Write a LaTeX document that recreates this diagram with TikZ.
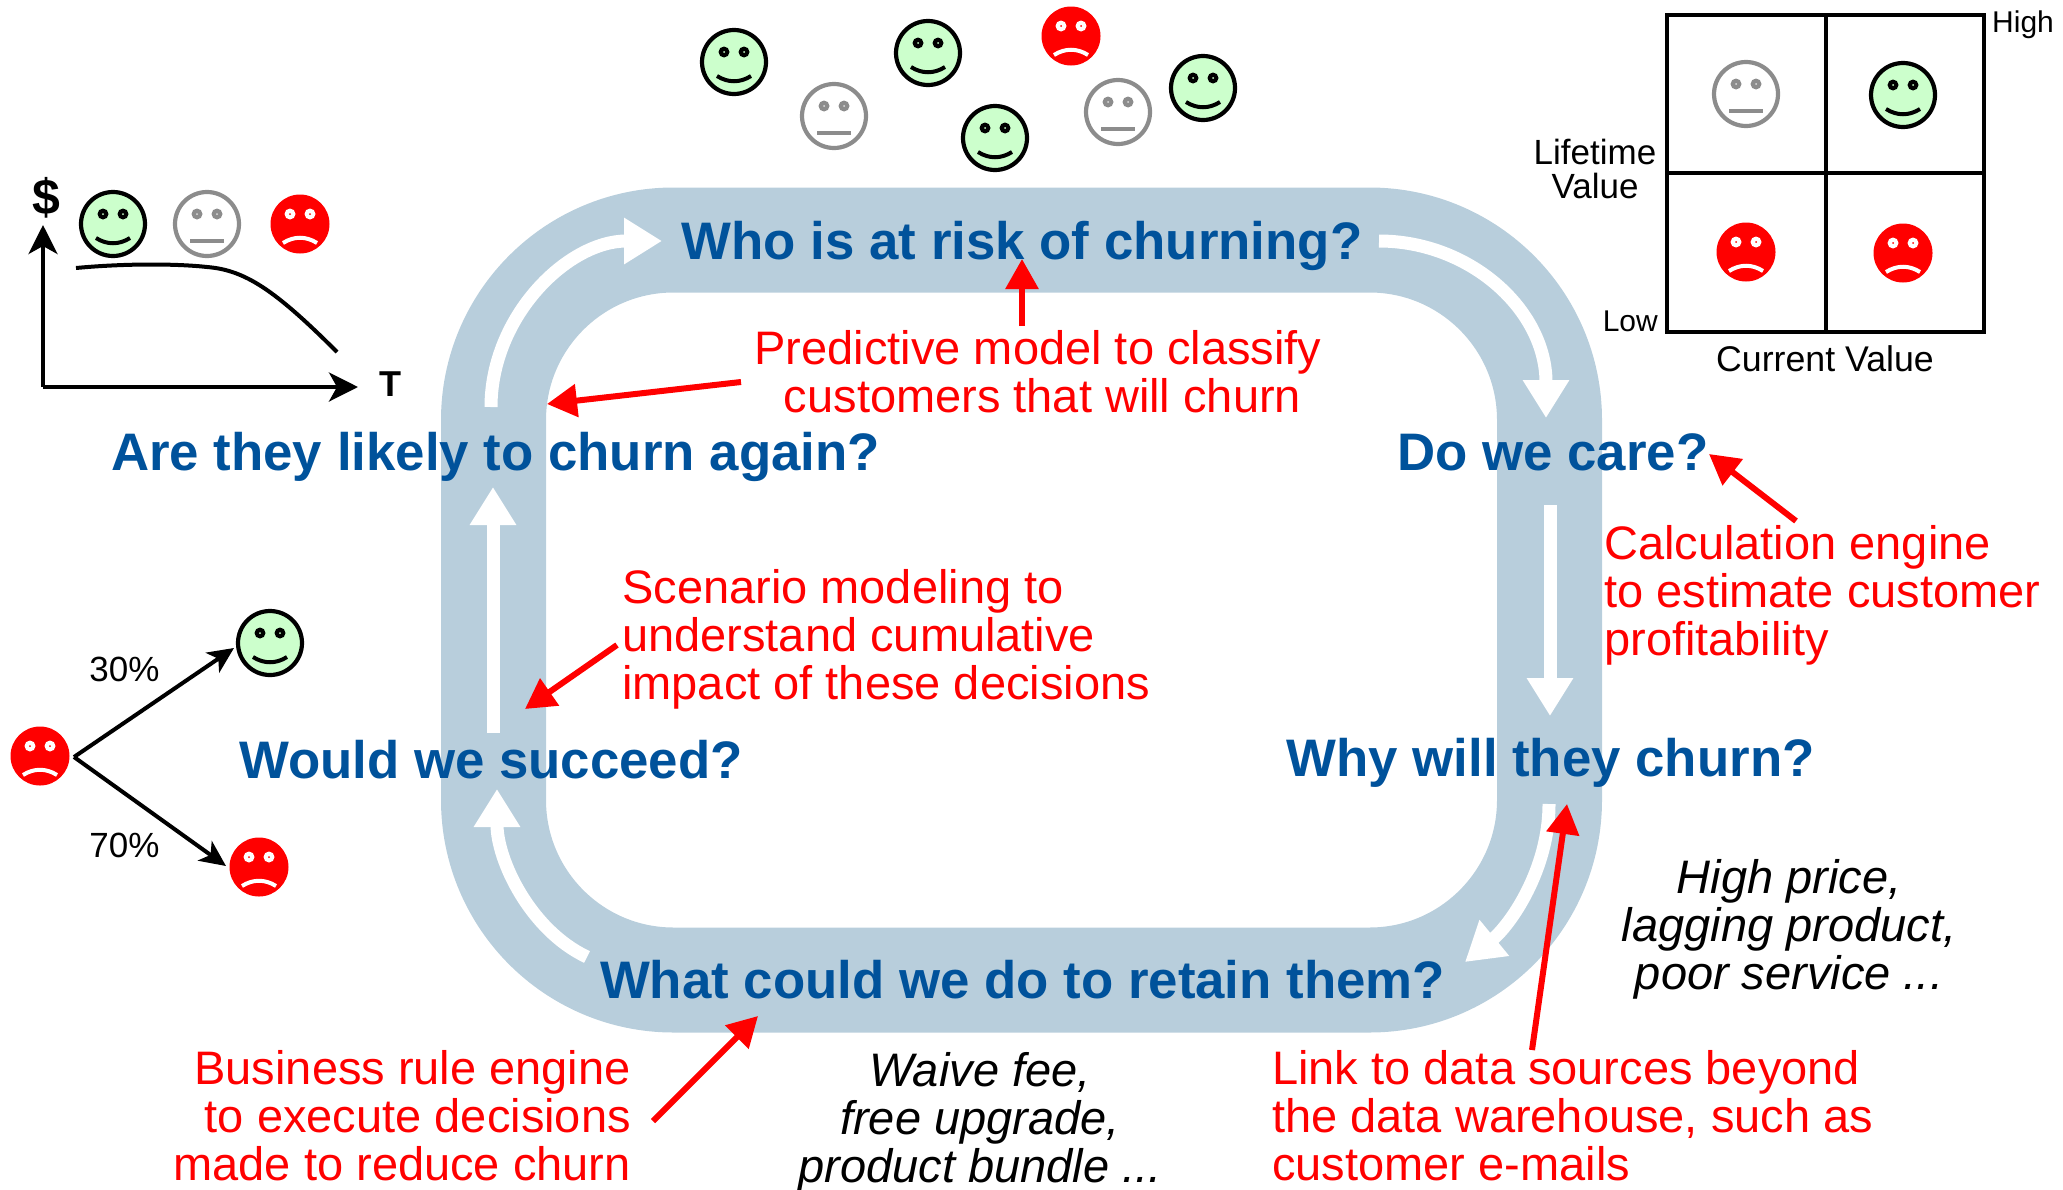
\documentclass[tikz,border=0pt]{standalone}
\usepackage{fontspec}
\setmainfont{Liberation Sans}
\usetikzlibrary{arrows.meta}
\definecolor{bandc}{HTML}{B8CEDC}
\definecolor{qblue}{HTML}{00529B}
\definecolor{happyc}{HTML}{CCFFCC}
\definecolor{neutc}{HTML}{8C8C8C}
\tikzset{
  x=1pt,y=-1pt,
  question/.style={inner sep=0pt,text=qblue,font=\fontsize{52.8}{60}\selectfont\bfseries},
  redtext/.style={inner sep=0pt,text=red,font=\fontsize{47}{48}\selectfont},
  ittext/.style={inner sep=0pt,text=black,font=\fontsize{47}{48}\selectfont\itshape},
  small/.style={inner sep=0pt,text=black,font=\fontsize{35}{34}\selectfont},
  whitearrow/.style={draw=white,line width=13pt,-{Triangle[length=38pt,width=44pt]}},
  redarrow/.style={draw=red,line width=6pt,-{Triangle[length=30pt,width=32pt]}},
  blackarrow/.style={draw=black,line width=4pt,-{Stealth[length=29pt,width=29pt,inset=8pt]}},
  thinarrow/.style={draw=black,line width=4pt,-{Stealth[length=26pt,width=24pt,inset=7pt]}},
  happy/.pic={
    \draw[fill=happyc,draw=black,line width=4.2pt] (0,0) circle[radius=32];
    \fill[black] (-10,-10) circle[radius=5.5] (10,-10) circle[radius=5.5];
    \fill[happyc] (-10,-10) circle[radius=1] (10,-10) circle[radius=1];
    \draw[black,line width=4pt] (-17,14) .. controls (-6,21) and (6,21) .. (17,14);
  },
  neutral/.pic={
    \draw[fill=white,draw=neutc,line width=4.2pt] (0,0) circle[radius=32];
    \fill[neutc] (-10,-10) circle[radius=5.5] (10,-10) circle[radius=5.5];
    \fill[white!70!neutc] (-10,-10) circle[radius=1] (10,-10) circle[radius=1];
    \draw[neutc,line width=4.5pt] (-17,17) -- (17,17);
  },
  sad/.pic={
    \fill[red] (0,0) circle[radius=29.5];
    \fill[white] (-10,-10) circle[radius=5.5] (10,-10) circle[radius=5.5];
    \fill[red] (-10,-10) circle[radius=1] (10,-10) circle[radius=1];
    \draw[white,line width=4pt] (-17,19) .. controls (-6,12) and (6,12) .. (17,19);
  },
}
\begin{document}
\begin{tikzpicture}
\useasboundingbox (0,0) rectangle (2063,1189);
% band
\draw[draw=bandc,line width=105pt,rounded corners=180pt] (493.5,240) rectangle (1549.5,980);
% white arrow ends
\coordinate (tlA) at (491,407);
\coordinate (tlB) at (662,241);
\coordinate (trA) at (1379,241);
\coordinate (trB) at (1546,418);
\coordinate (rA) at (1550,505);
\coordinate (rB) at (1550,716);
\coordinate (brA) at (1549,804);
\coordinate (brB) at (1465,962);
\coordinate (blA) at (587,957);
\coordinate (blB) at (497,789);
\coordinate (lA) at (493,733);
\coordinate (lB) at (493,487);
\draw[whitearrow] (tlA) .. controls (491,316) and (568,241) .. (tlB);
\draw[whitearrow] (trA) .. controls (1470,241) and (1546,310) .. (trB);
\draw[whitearrow] (rA) -- (rB);
\draw[whitearrow] (brA) .. controls (1549,870) and (1510,925) .. (brB);
\draw[whitearrow] (blA) .. controls (530,930) and (497,860) .. (blB);
\draw[whitearrow] (lA) -- (lB);
% questions
\node[question] (qwho) at (1022,246) {Who is at risk of churning?};
\node[question] (qagain) at (495.5,457) {Are they likely to churn again?};
\node[question] (qcare) at (1553,452) {Do we care?};
\node[question] (qwhy) at (1550.5,763) {Why will they churn?};
\node[question] (qwhat) at (1022.5,980) {What could we do to retain them?};
\node[question] (qwould) at (491,760) {Would we succeed?};
% red texts
\node[redtext,align=center] (tpred) at (1038,372) {Predictive model to classify\\\hspace*{9pt}customers that will churn};
\node[redtext,align=left,anchor=west] (tcalc) at (1604,595) {Calculation engine\\to estimate customer\\profitability};
\node[redtext,align=left,anchor=west] (tscen) at (622,639) {Scenario modeling to\\understand cumulative\\impact of these decisions};
\node[redtext,align=right,anchor=east] (tbiz) at (631,1116) {Business rule engine\\to execute decisions\\made to reduce churn};
\node[redtext,align=left,anchor=west] (tlink) at (1272,1116) {Link to data sources beyond\\the data warehouse, such as\\customer e-mails};
\node[ittext,align=center] (twaive) at (980,1122) {Waive fee,\\free upgrade,\\product bundle ...};
\node[ittext,align=center] (thigh) at (1789,929) {High price,\\lagging product,\\poor service ...};
% red arrows
\coordinate (r1A) at (1022,326);
\coordinate (r1B) at (1022,259);
\coordinate (r2A) at (741,382);
\coordinate (r2B) at (547,404);
\coordinate (r3A) at (1796,521);
\coordinate (r3B) at (1709,454);
\coordinate (r4A) at (617,645);
\coordinate (r4B) at (525,709);
\coordinate (r5A) at (1532,1050);
\coordinate (r5B) at (1567,804);
\coordinate (r6A) at (653,1121);
\coordinate (r6B) at (758,1016);
\foreach \a/\b in {r1A/r1B,r2A/r2B,r3A/r3B,r4A/r4B,r5A/r5B,r6A/r6B} \draw[redarrow] (\a) -- (\b);
% chart
\coordinate (org) at (43,387);
\coordinate (yend) at (43,225);
\coordinate (xend) at (358,387);
\draw[blackarrow] (org) -- (yend);
\draw[blackarrow] (org) -- (xend);
\node[inner sep=0pt,font=\fontsize{50}{50}\selectfont\bfseries] (dollar) at (46,198) {\$};
\node[inner sep=0pt,font=\fontsize{36}{36}\selectfont\bfseries] (tlab) at (390,384) {T};
\draw[black,line width=4pt] (76,268) .. controls (130,263) and (180,264) .. (207,267) .. controls (245,270) and (275,290) .. (337,352);
\pic (c1) at (113,224) {happy};
\pic (c2) at (207,224) {neutral};
\pic (c3) at (300,224) {sad};
% top faces
\pic (t1) at (734,62) {happy};
\pic (t2) at (834,116) {neutral};
\pic (t3) at (928,53) {happy};
\pic (t4) at (995,138) {happy};
\pic (t5) at (1071,36) {sad};
\pic (t6) at (1118,112) {neutral};
\pic (t7) at (1203,88) {happy};
% matrix
\draw[black,line width=4.5pt] (1667,15) rectangle (1984,332);
\draw[black,line width=4.5pt] (1826,15) -- (1826,332);
\draw[black,line width=4.5pt] (1667,173) -- (1984,173);
\pic (m1) at (1746,94) {neutral};
\pic (m2) at (1903,95) {happy};
\pic (m3) at (1746,252) {sad};
\pic (m4) at (1903,253) {sad};
\node[small,anchor=west] (lhigh) at (1992,25) {\fontsize{30}{30}\selectfont High};
\node[small,anchor=east] (llow) at (1658,321) {\fontsize{30}{30}\selectfont Low};
\node[small,align=center] (lval) at (1595,169) {Lifetime\\Value};
\node[small,font=\fontsize{35.7}{34}\selectfont] (lcur) at (1825,359) {Current Value};
% tree
\pic (s0) at (40,756) {sad};
\pic (s1) at (270,643) {happy};
\pic (s2) at (259,867) {sad};
\coordinate (tree) at (74,757);
\coordinate (treeU) at (234,648);
\coordinate (treeD) at (226,866);
\draw[thinarrow] (tree) -- (treeU);
\draw[thinarrow] (tree) -- (treeD);
\node[small] (p30) at (124.5,669) {30\%};
\node[small] (p70) at (124.5,845) {70\%};
\end{tikzpicture}
\end{document}
